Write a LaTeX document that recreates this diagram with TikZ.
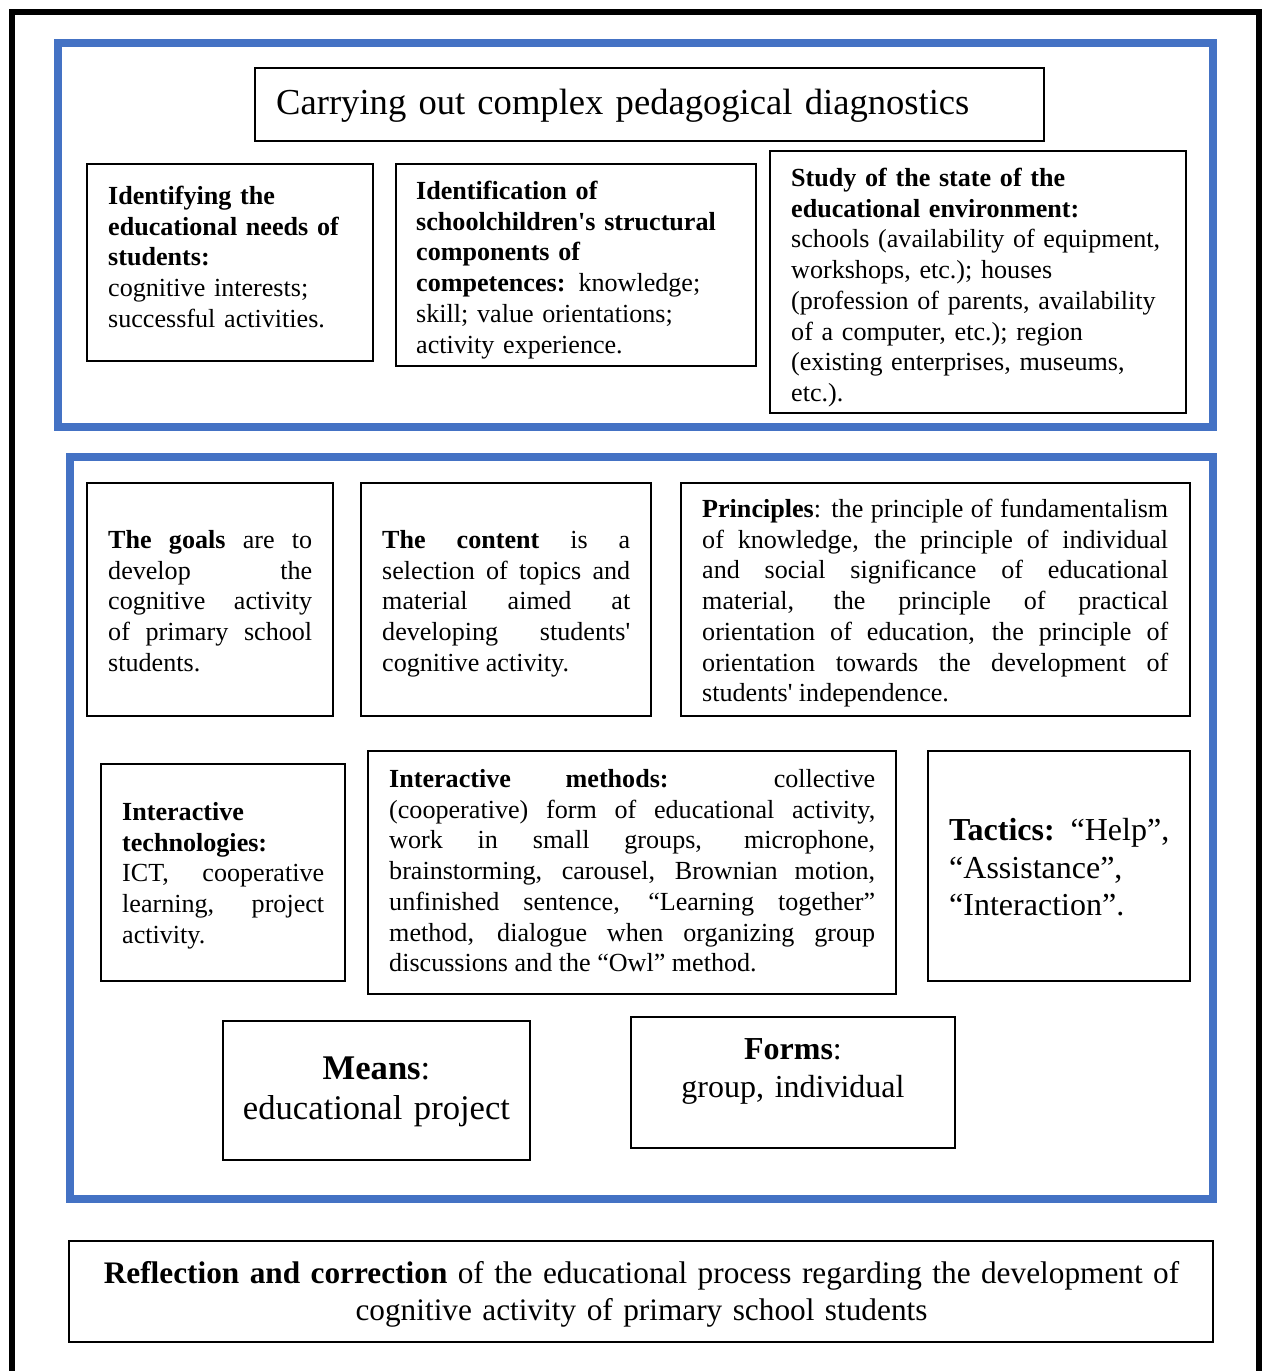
\documentclass[tikz,border=0pt]{standalone}
\usepackage{fontspec}
\setmainfont{Liberation Serif}
\definecolor{frameblue}{RGB}{68,114,196}
\newcommand\myBody{\fontsize{26.1}{30.7}\selectfont}
\newcommand\myTitle{\fontsize{36.6}{42.8}\selectfont}
\newcommand\myTact{\fontsize{32}{37.5}\selectfont}
\newcommand\myMeans{\fontsize{34.6}{40}\selectfont}
\newcommand\myRefl{\fontsize{31.3}{37}\selectfont}
\tolerance=10000 \hbadness=10000 \hfuzz=100pt \hyphenpenalty=10000 \exhyphenpenalty=10000
\begin{document}
\begin{tikzpicture}[x=1pt,y=-1pt,
  box/.style={draw, line width=2.5pt, inner sep=0pt},
  txt/.style={inner sep=0pt, font=\myBody, anchor=base west, align=left, text width=#1},
  jtxt/.style={inner sep=0pt, font=\myBody, anchor=base west, align=justify, text width=#1},
  ctxt/.style={inner sep=0pt, anchor=base, align=center, text width=#1},
  bluebox/.style={draw=frameblue, line width=8pt, inner sep=0pt},
  outer/.style={line width=6pt}]
\useasboundingbox (0,0) rectangle (1269,1371);
% outer black frame (open at the bottom)
\coordinate (fbl) at (12,1371);
\coordinate (ftl) at (12,12);
\coordinate (ftr) at (1259,12);
\coordinate (fbr) at (1259,1371);
\draw[outer] (fbl) -- (ftl) -- (ftr) -- (fbr);
% blue frames
\node[bluebox, minimum width=1155.5pt, minimum height=384.2pt] (diag) at (635.25,234.6) {};
\node[bluebox, minimum width=1143pt, minimum height=742.5pt] (design) at (641.5,827.75) {};
% ---------- diagnostics block ----------
\node[box, minimum width=789pt, minimum height=73pt] (title) at (649.5,104.5) {};
\node[txt=760pt, font=\myTitle] (titleT) at (276,114)
  {Carrying out complex pedagogical diagnostics};
\node[box, minimum width=286pt, minimum height=197pt] (needs) at (230,262.5) {};
\node[txt=260pt] (needsT) at (108,204.5)
  {\textbf{Identifying the}\\ \textbf{educational needs of}\\ \textbf{students:}\\ cognitive interests;\\ successful activities.};
\node[box, minimum width=360pt, minimum height=202pt] (compet) at (576,265) {};
\node[txt=330pt] (competT) at (416,199.5)
  {\textbf{Identification of}\\ \textbf{schoolchildren\textquotesingle s structural}\\ \textbf{components of}\\ \textbf{competences:} knowledge;\\ skill; value orientations;\\ activity experience.};
\node[box, minimum width=416pt, minimum height=262pt] (envir) at (978,282) {};
\node[txt=390pt] (envirT) at (791,186.5)
  {\textbf{Study of the state of the}\\ \textbf{educational environment:}\\ schools (availability of equipment,\\ workshops, etc.); houses\\ (profession of parents, availability\\ of a computer, etc.); region\\ (existing enterprises, museums,\\ etc.).};
% ---------- design block, row 1 ----------
\node[box, minimum width=246pt, minimum height=233pt] (goals) at (210,599.5) {};
\node[jtxt=204pt] (goalsT) at (108,548.5)
  {\textbf{The goals} are to\linebreak develop the\linebreak cognitive activity\linebreak of primary school\linebreak students.};
\node[box, minimum width=290pt, minimum height=233pt] (content) at (506,599.5) {};
\node[jtxt=248pt] (contentT) at (382,548.5)
  {\textbf{The content} is a\linebreak selection of topics and\linebreak material aimed at\linebreak developing students\textquotesingle\linebreak cognitive activity.};
\node[box, minimum width=509pt, minimum height=233pt] (princ) at (935.5,599.5) {};
\node[jtxt=466pt] (princT) at (702,517.5)
  {\textbf{Principles}: the principle of fundamentalism\linebreak of knowledge, the principle of individual\linebreak and social significance of educational\linebreak material, the principle of practical\linebreak orientation of education, the principle of\linebreak orientation towards the development of\linebreak students\textquotesingle{} independence.};
% ---------- row 2 ----------
\node[box, minimum width=244pt, minimum height=217pt] (techn) at (223,872.5) {};
\node[jtxt=202pt] (technT) at (122,820.5)
  {\textbf{Interactive}\\ \textbf{technologies:}\\ ICT, cooperative\linebreak learning, project\linebreak activity.};
\node[box, minimum width=528pt, minimum height=243pt] (methods) at (632,872.5) {};
\node[jtxt=486pt] (methodsT) at (389,787.5)
  {\textbf{Interactive methods:} collective\linebreak (cooperative) form of educational activity,\linebreak work in small groups, microphone,\linebreak brainstorming, carousel, Brownian motion,\linebreak unfinished sentence, “Learning together”\linebreak method, dialogue when organizing group\linebreak discussions and the “Owl” method.};
\node[box, minimum width=262pt, minimum height=230pt] (tactics) at (1059,866) {};
\node[txt=235pt, font=\myTact] (tacticsT) at (949,840.5)
  {\textbf{Tactics:} “Help”,\\ “Assistance”,\\ “Interaction”.};
% ---------- row 3 ----------
\node[box, minimum width=307pt, minimum height=139pt] (means) at (376.5,1090.5) {};
\node[ctxt=300pt, font=\myMeans] (meansT) at (376.5,1079.5)
  {\textbf{Means}:\\ educational project};
\node[box, minimum width=324pt, minimum height=131pt] (forms) at (793,1082.5) {};
\node[ctxt=300pt, font=\myTact] (formsT) at (793,1059.5)
  {\textbf{Forms}:\\ group, individual};
% ---------- reflection ----------
\node[box, minimum width=1144pt, minimum height=101pt] (refl) at (641,1291.5) {};
\node[ctxt=1130pt, font=\myRefl] (reflT) at (641.5,1283)
  {\textbf{Reflection and correction} of the educational process regarding the development of\\ cognitive activity of primary school students};
\end{tikzpicture}
\end{document}
